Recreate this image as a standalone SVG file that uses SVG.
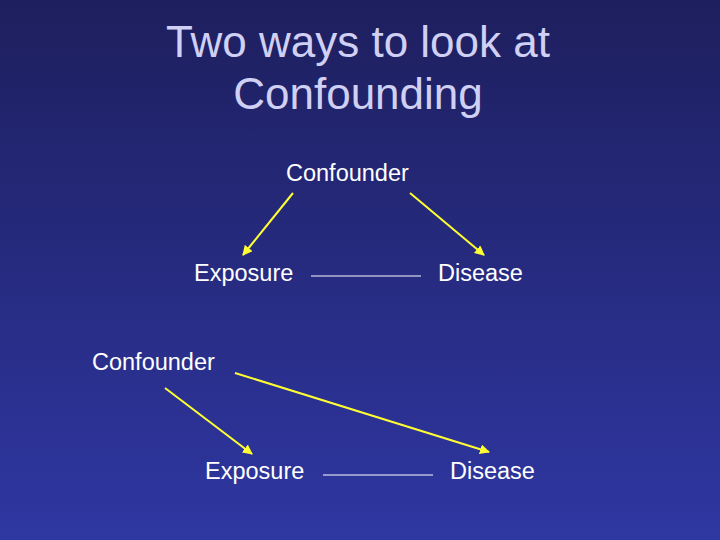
<svg xmlns="http://www.w3.org/2000/svg" width="720" height="540" viewBox="0 0 720 540">
<defs>
<linearGradient id="bg" x1="0" y1="0" x2="0" y2="1"><stop offset="0" stop-color="#1e1f5e"/><stop offset="1" stop-color="#2f37a2"/></linearGradient>
<marker id="ah" viewBox="0 0 10 10" refX="9" refY="5" markerWidth="5" markerHeight="5" orient="auto"><path d="M0,0 L10,5 L0,10 z" fill="#ffff33"/></marker>
<style>
.t{font-family:"Liberation Sans",Arial,sans-serif;font-size:44px;fill:#d0d0f4;text-anchor:middle}
.l{font-family:"Liberation Sans",Arial,sans-serif;font-size:23.5px;fill:#ffffff}
.a{stroke:#ffff33;stroke-width:2;fill:none;marker-end:url(#ah)}
.w{stroke:#ffffff;stroke-width:1}
</style>
</defs>
<rect width="720" height="540" fill="url(#bg)"/>
<text class="t" x="358" y="57">Two ways to look at</text>
<text class="t" x="358" y="109">Confounding</text>
<g id="confounder1"><text class="l" x="286" y="181">Confounder</text></g>
<g id="exposure1"><text class="l" x="194" y="281">Exposure</text></g>
<g id="disease1"><text class="l" x="438" y="281">Disease</text></g>
<g id="confounder2"><text class="l" x="92" y="370">Confounder</text></g>
<g id="exposure2"><text class="l" x="205" y="479">Exposure</text></g>
<g id="disease2"><text class="l" x="450" y="479">Disease</text></g>
<g id="connectors">
<line class="a" x1="293" y1="193" x2="243" y2="255"/>
<line class="a" x1="410" y1="193" x2="484" y2="255"/>
<line class="w" x1="311" y1="276" x2="421" y2="276"/>
<line class="a" x1="235" y1="373" x2="489" y2="452"/>
<line class="a" x1="165" y1="388" x2="252" y2="454"/>
<line class="w" x1="323" y1="475" x2="433" y2="475"/>
</g>
</svg>
